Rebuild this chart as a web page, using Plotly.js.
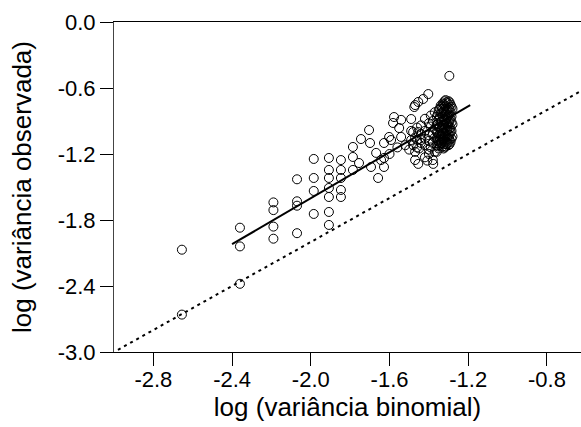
<!DOCTYPE html>
<html>
<head>
<meta charset="utf-8">
<script src="https://cdn.plot.ly/plotly-3.0.1.min.js"></script>
<style>html,body{margin:0;padding:0;background:#fff;}#chart{width:581px;height:427px;}</style>
</head>
<body>
<div id="chart"></div>
<script>
// log (variância binomial) — x values of the observations
const logVarBinomial = [
  -2.655, -2.655, -2.36, -2.36, -2.36,
  -2.19, -2.19, -2.19, -2.19, -2.07, -2.07, -2.07, -2.07,
  -1.985, -1.985, -1.985, -1.985,
  -1.908, -1.908, -1.908, -1.908, -1.908, -1.908, -1.908,
  -1.847, -1.847, -1.847, -1.847, -1.847,
  -1.786, -1.786, -1.786,
  -1.755, -1.745, -1.704, -1.694, -1.699, -1.668, -1.658, -1.643, -1.628, -1.628, -1.628, -1.602, -1.592,
  -1.577, -1.541, -1.582, -1.551, -1.490, -1.541, -1.490, -1.454, -1.439, -1.403, -1.429, -1.454, -1.474,
  -1.454, -1.408, -1.378, -1.296, -1.52, -1.50, -1.56, -1.60, -1.47, -1.49, -1.47, -1.45,
  -1.48, -1.48, -1.47, -1.47, -1.46, -1.46, -1.46, -1.44, -1.44, -1.44,
  -1.42, -1.42, -1.42, -1.42, -1.42, -1.40, -1.40, -1.40, -1.40, -1.40,
  -1.39, -1.39, -1.39, -1.38, -1.38, -1.38, -1.38, -1.37, -1.37, -1.37, -1.37,
  -1.36, -1.36, -1.36, -1.36, -1.36, -1.36,
  -1.35, -1.35, -1.35, -1.35, -1.35, -1.35,
  -1.34, -1.34, -1.34, -1.34, -1.34, -1.34,
  -1.33, -1.33, -1.33, -1.33, -1.33, -1.33, -1.33,
  -1.32, -1.32, -1.32, -1.32, -1.32, -1.32, -1.32, -1.32,
  -1.31, -1.31, -1.31, -1.31, -1.31, -1.31, -1.31,
  -1.30, -1.30, -1.30, -1.30, -1.30, -1.30, -1.30, -1.30,
  -1.29, -1.29, -1.29, -1.29, -1.29, -1.29,
  -1.28, -1.28, -1.28,
  -1.355, -1.355, -1.355, -1.355, -1.355,
  -1.345, -1.345, -1.345, -1.345, -1.345, -1.345,
  -1.335, -1.335, -1.335, -1.335, -1.335, -1.335,
  -1.325, -1.325, -1.325, -1.325, -1.325, -1.325, -1.325, -1.325,
  -1.315, -1.315, -1.315, -1.315, -1.315, -1.315, -1.315, -1.315,
  -1.305, -1.305, -1.305, -1.305, -1.305, -1.305, -1.305,
  -1.295, -1.295, -1.295, -1.295, -1.295, -1.295, -1.295, -1.295,
  -1.285, -1.285, -1.285, -1.285, -1.285
];
// log (variância observada) — y values of the observations
const logVarObserved = [
  -2.07, -2.66, -1.87, -2.04, -2.38,
  -1.64, -1.71, -1.86, -1.97, -1.43, -1.63, -1.67, -1.92,
  -1.245, -1.418, -1.536, -1.745,
  -1.236, -1.345, -1.418, -1.509, -1.591, -1.727, -1.845,
  -1.255, -1.345, -1.418, -1.527, -1.591,
  -1.136, -1.227, -1.345,
  -1.282, -1.064, -0.982, -1.318, -1.10, -1.19, -1.418, -1.255, -1.318, -1.236, -1.10, -1.045, -1.073,
  -0.864, -0.89, -0.918, -0.964, -0.882, -1.045, -1.073, -1.0, -1.073, -0.655, -0.70, -0.727, -0.773,
  -1.29, -1.26, -1.29, -0.49, -1.12, -1.16, -1.14, -1.20, -1.18, -0.99, -1.05, -1.15,
  -1.00, -1.12, -0.755, -1.255, -0.96, -1.07, -1.14, -0.94, -1.02, -1.10,
  -0.88, -0.99, -1.06, -1.12, -1.23, -0.92, -1.03, -1.08, -1.16, -1.20,
  -0.85, -0.95, -1.14, -0.90, -1.01, -1.10, -1.255, -0.82, -0.97, -1.05, -1.18,
  -0.86, -0.93, -1.00, -1.06, -1.12, -1.18,
  -0.80, -0.89, -0.96, -1.03, -1.09, -1.15,
  -0.76, -0.83, -0.91, -0.98, -1.04, -1.10,
  -0.74, -0.79, -0.86, -0.94, -1.01, -1.07, -1.13,
  -0.72, -0.77, -0.84, -0.90, -0.97, -1.03, -1.08, -1.14,
  -0.73, -0.81, -0.87, -0.92, -0.99, -1.05, -1.11,
  -0.72, -0.78, -0.85, -0.91, -0.95, -1.02, -1.06, -1.12,
  -0.75, -0.82, -0.88, -0.96, -1.00, -1.09,
  -0.79, -0.93, -1.04,
  -0.84, -0.93, -1.01, -1.08, -1.13,
  -0.79, -0.87, -0.95, -1.02, -1.07, -1.12,
  -0.77, -0.83, -0.90, -0.97, -1.04, -1.10,
  -0.75, -0.81, -0.88, -0.93, -1.00, -1.06, -1.11, -1.15,
  -0.71, -0.76, -0.83, -0.89, -0.96, -1.02, -1.09, -1.13,
  -0.74, -0.80, -0.86, -0.93, -0.98, -1.04, -1.10,
  -0.73, -0.79, -0.84, -0.90, -0.97, -1.03, -1.07, -1.11,
  -0.77, -0.86, -0.91, -0.99, -1.06
];
// fitted regression line (solid)
const fitX = [-2.40, -1.19];
const fitY = [-2.02, -0.755];
// 1:1 reference line (dashed)
const refX = [-2.98, -0.63];
const refY = [-2.98, -0.63];
// ticks
const xTickVals = [-2.8, -2.4, -2.0, -1.6, -1.2, -0.8];
const xTickText = ['-2.8', '-2.4', '-2.0', '-1.6', '-1.2', '-0.8'];
const yTickVals = [0.0, -0.6, -1.2, -1.8, -2.4, -3.0];
const yTickText = ['0.0', '-0.6', '-1.2', '-1.8', '-2.4', '-3.0'];

const FONT = 'Liberation Sans, Arial, sans-serif';

const traces = [
  {
    x: logVarBinomial, y: logVarObserved, type: 'scatter', mode: 'markers',
    marker: {symbol: 'circle-open', size: 9, color: '#000', line: {width: 1}},
    hoverinfo: 'skip'
  },
  {
    x: fitX, y: fitY, type: 'scatter', mode: 'lines',
    line: {color: '#000', width: 2}, hoverinfo: 'skip'
  },
  {
    x: refX, y: refY, type: 'scatter', mode: 'lines',
    line: {color: '#000', width: 2, dash: '3px,4px'}, hoverinfo: 'skip'
  }
];

const layout = {
  width: 581, height: 427,
  margin: {l: 114, r: 0, t: 22, b: 75, pad: 0},
  showlegend: false,
  paper_bgcolor: '#fff', plot_bgcolor: '#fff',
  font: {family: FONT, color: '#000'},
  xaxis: {
    range: [-3.0, -0.627], tickmode: 'array', tickvals: xTickVals, ticktext: xTickText,
    ticks: 'outside', ticklen: 13, tickwidth: 1, tickcolor: '#000',
    ticklabelstandoff: -5,
    showline: true, linecolor: '#000', linewidth: 1, mirror: true,
    showgrid: false, zeroline: false,
    tickfont: {family: FONT, size: 22, color: '#000'},
    title: {text: 'log (variância binomial)', standoff: 6, font: {family: FONT, size: 26, color: '#000'}}
  },
  yaxis: {
    range: [-3.0, 0.0], tickmode: 'array', tickvals: yTickVals, ticktext: yTickText,
    ticks: 'outside', ticklen: 13, tickwidth: 1, tickcolor: '#000',
    showline: true, linecolor: '#444', linewidth: 1, mirror: false,
    showgrid: false, zeroline: false,
    tickfont: {family: FONT, size: 22, color: '#000'},
    title: {text: 'log (variância observada)', standoff: 18, font: {family: FONT, size: 26, color: '#000'}}
  }
};

Plotly.newPlot('chart', traces, layout, {staticPlot: true, displayModeBar: false});
</script>
</body>
</html>
